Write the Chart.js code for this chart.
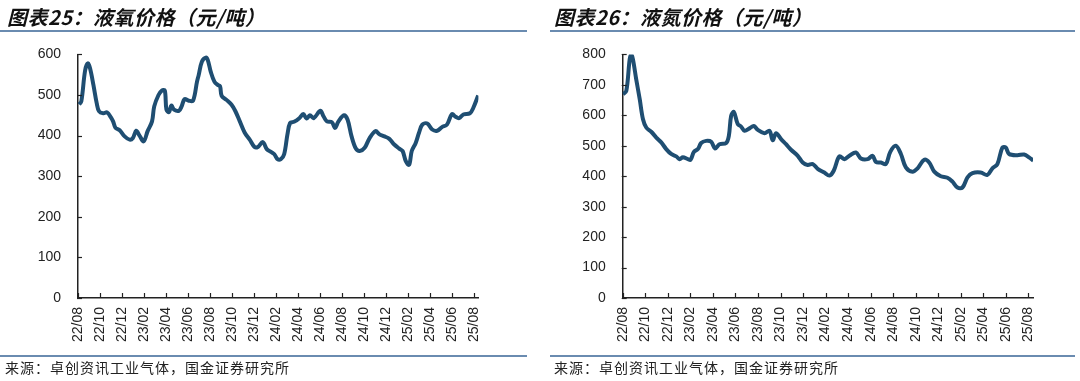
<!DOCTYPE html>
<html><head><meta charset="utf-8">
<script src="https://cdn.jsdelivr.net/npm/chart.js@4.4.1/dist/chart.umd.min.js"></script>
<style>
html,body{margin:0;padding:0;background:#fff;width:1080px;height:381px;overflow:hidden;position:relative;font-family:"Noto Sans CJK SC",sans-serif;}
.title{position:absolute;top:2px;font-size:20px;font-weight:bold;font-style:italic;color:#111;letter-spacing:0.5px;white-space:nowrap;z-index:2;}
.src{position:absolute;top:357px;font-size:14px;color:#222;letter-spacing:1px;white-space:nowrap;}
.rule{position:absolute;height:1.5px;background:#6a8bb0;z-index:2;}
canvas{position:absolute;}
</style></head><body>
<canvas id="c1" width="500" height="331" style="left:0;top:29px"></canvas>
<canvas id="c2" width="520" height="331" style="left:540px;top:29px"></canvas>
<div class="title" style="left:7px">图表25：液氧价格（元/吨）</div>
<div class="title" style="left:554px">图表26：液氮价格（元/吨）</div>
<div class="rule" style="left:0;width:527px;top:30px"></div>
<div class="rule" style="left:550px;width:525px;top:30px"></div>
<div class="rule" style="left:0;width:527px;top:355px"></div>
<div class="rule" style="left:550px;width:525px;top:355px"></div>
<div class="src" style="left:5px">来源：卓创资讯工业气体，国金证券研究所</div>
<div class="src" style="left:554px">来源：卓创资讯工业气体，国金证券研究所</div>
<script>
// tick labels (every 2 months starting 22/08)
const tickLabels = ["22/08","22/10","22/12","23/02","23/04","23/06","23/08","23/10","23/12","24/02","24/04","24/06","24/08","24/10","24/12","25/02","25/04","25/06","25/08"];

// 液氧: months since 2022-08, price (元/吨)
const oxygenMonths = [0.09,0.3,0.65,0.9,1.1,1.4,1.7,1.91,2.3,2.65,2.99,3.19,3.41,3.79,4.24,4.69,4.99,5.29,5.59,5.97,6.33,6.73,6.93,7.32,7.62,7.89,8.04,8.28,8.48,8.73,9.17,9.42,9.69,10.07,10.46,10.82,10.97,11.26,11.62,11.8,12.07,12.4,12.7,12.91,13.06,13.5,13.96,14.31,14.71,15.16,15.61,16.05,16.35,16.8,17.18,17.54,17.85,18.14,18.44,18.74,19.04,19.28,19.64,20.09,20.48,20.77,21.08,21.43,22.03,22.33,22.63,23.08,23.37,23.68,24.18,24.51,24.87,25.26,25.61,26.06,26.51,27.05,27.41,27.86,28.3,28.75,29.2,29.51,29.8,30.1,30.34,30.7,31.0,31.3,31.75,32.2,32.65,33.09,33.54,33.99,34.29,34.65,35.03,35.63,35.93,36.38];
const oxygenPrices = [477,484,561,578,565,525,480,460,455,457,445,435,419,413,398,390,394,412,400,386,411,435,472,500,511,511,464,458,474,464,461,472,490,486,486,533,549,582,592,586,557,533,525,522,498,488,476,460,435,407,390,372,372,384,366,360,354,342,342,354,403,431,434,442,453,442,450,443,461,447,435,433,419,435,450,439,398,368,362,370,394,411,403,398,392,378,368,362,337,328,362,382,407,427,430,415,412,421,427,453,447,443,452,455,468,499];

// 液氮
const nitrogenMonths = [0.03,0.32,0.62,0.76,0.91,1.2,1.51,1.8,2.09,2.53,2.98,3.42,3.86,4.3,4.75,5.05,5.34,5.78,6.02,6.32,6.67,6.96,7.4,7.85,8.2,8.59,9.18,9.42,9.62,9.86,10.21,10.5,10.81,11.25,11.63,11.99,12.58,13.02,13.31,13.6,14.05,14.49,14.93,15.53,15.97,16.41,16.86,17.3,17.89,18.34,18.72,19.22,19.66,20.11,20.69,21.13,21.73,22.17,22.46,22.91,23.35,23.74,24.23,24.68,25.12,25.71,26.16,26.75,27.19,27.64,28.22,28.81,29.26,29.7,30.14,30.59,31.03,31.76,32.35,32.8,33.24,33.68,33.98,34.28,35.01,35.61,36.05,36.43];
const nitrogenPrices = [669,680,784,800,784,718,653,587,560,546,527,511,489,473,465,456,462,456,454,480,489,509,516,513,491,505,509,533,598,611,571,563,549,557,565,552,541,549,518,541,522,505,487,467,445,437,440,424,412,402,418,465,456,467,478,458,456,467,447,445,440,480,500,473,429,415,426,454,445,415,400,395,382,363,363,396,410,412,404,426,440,494,494,473,469,471,462,451];

const inwardTicks = {
  id:'inwardTicks',
  afterDraw(chart){
    const ctx = chart.ctx, xs = chart.scales.x, ys = chart.scales.y, a = chart.chartArea;
    ctx.save(); ctx.strokeStyle = '#222'; ctx.lineWidth = 1.2;
    xs.ticks.forEach(t => { const px = Math.round(xs.getPixelForValue(t.value)) + 0.5; ctx.beginPath(); ctx.moveTo(px, a.bottom); ctx.lineTo(px, a.bottom - 5); ctx.stroke(); });
    ys.ticks.forEach(t => { const py = Math.round(ys.getPixelForValue(t.value)) + 0.5; ctx.beginPath(); ctx.moveTo(a.left - 1, py); ctx.lineTo(a.left + 4, py); ctx.stroke(); });
    ctx.restore();
  }
};

function makeChart(id, months, prices, ymax, yWidth, padRight){
  const pts = months.map((m, i) => ({x: m, y: prices[i]}));
  return new Chart(document.getElementById(id), {
    type: 'line',
    data: { datasets: [{ data: pts, borderColor: '#1f4e72', borderWidth: 4, pointRadius: 0, tension: 0.35, fill: false }] },
    options: {
      responsive: false, animation: false, devicePixelRatio: 1,
      layout: { padding: { top: 2, right: padRight, left: 0, bottom: 0 } },
      plugins: { legend: { display: false }, tooltip: { enabled: false } },
      scales: {
        x: {
          type: 'linear', min: 0, max: 36.4,
          afterBuildTicks: s => { s.ticks = tickLabels.map((_, i) => ({ value: i * 2 })); },
          afterFit: s => { s.height = 62; },
          grid: { display: true, drawOnChartArea: false, drawTicks: false },
          border: { display: true, color: '#222', width: 1.5 },
          ticks: { autoSkip: false, maxRotation: 90, minRotation: 90, padding: 9, color: '#222',
                   font: { family: 'Liberation Sans', size: 14 },
                   callback: v => tickLabels[Math.round(v / 2)] }
        },
        y: {
          min: 0, max: ymax,
          afterFit: s => { s.width = yWidth; },
          grid: { display: true, drawOnChartArea: false, drawTicks: false },
          border: { display: true, color: '#222', width: 1.5 },
          ticks: { stepSize: 100, padding: 17, color: '#222', font: { family: 'Liberation Sans', size: 14 } }
        }
      }
    },
    plugins: [inwardTicks]
  });
}
makeChart('c1', oxygenMonths, oxygenPrices, 600, 78, 17.7);
makeChart('c2', nitrogenMonths, nitrogenPrices, 800, 82.7, 27);
</script>
</body></html>
